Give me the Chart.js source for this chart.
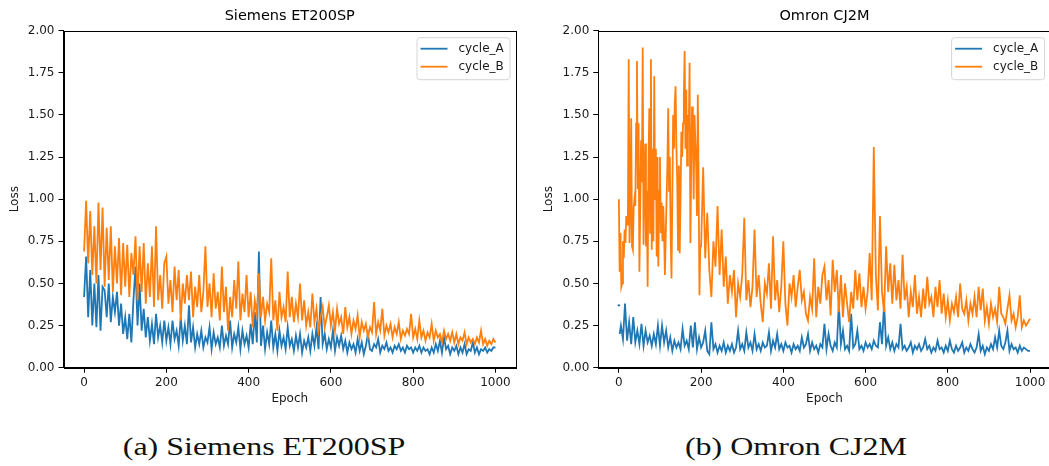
<!DOCTYPE html>
<html><head><meta charset="utf-8">
<script src="https://cdn.jsdelivr.net/npm/chart.js@4/dist/chart.umd.min.js"></script>
<style>
html,body{margin:0;padding:0;background:#fff;}
body{width:1049px;height:466px;position:relative;overflow:hidden;}
#c1{position:absolute;left:0;top:0;}
#c2{position:absolute;left:525px;top:0;}
.cap{position:absolute;top:432px;font-family:"Liberation Serif",serif;font-size:26px;line-height:30px;color:#111;white-space:nowrap;transform:translateX(-50%) scaleX(1.23);transform-origin:center;}
</style></head><body>
<canvas id="c1" width="525" height="420"></canvas>
<canvas id="c2" width="528" height="420"></canvas>
<div class="cap" style="left:264px">(a) Siemens ET200SP</div>
<div class="cap" style="left:796px">(b) Omron CJ2M</div>
<script>
// ---- data ----
const epochs = Array.from({length: 201}, (_, i) => i * 5); // 0..1000 step 5
const earlyEpochs = Array.from({length: 100}, (_, i) => i * 2); // 0..198 step 2
const xTicks = [0, 200, 400, 600, 800, 1000];
const yTicks = [0, 0.25, 0.5, 0.75, 1.0, 1.25, 1.5, 1.75, 2.0];
const seriesNames = ['cycle_A', 'cycle_B'];
const titles = ['Siemens ET200SP', 'Omron CJ2M'];

const siemensA = [
0.42,0.66,0.30,0.58,0.25,0.50,0.24,0.55,0.22,0.48,
0.46,0.30,0.50,0.27,0.42,0.33,0.45,0.25,0.38,0.20,
0.30,0.17,0.32,0.15,0.40,0.60,0.25,0.50,0.22,0.35,
0.18,0.30,0.16,0.26,0.14,0.32,0.18,0.25,0.15,0.28,
0.16,0.24,0.14,0.28,0.17,0.22,0.13,0.30,0.16,0.25,
0.14,0.37,0.15,0.24,0.12,0.20,0.14,0.22,0.12,0.18,
0.15,0.24,0.11,0.21,0.14,0.18,0.12,0.25,0.13,0.19,
0.14,0.28,0.12,0.20,0.15,0.24,0.11,0.22,0.14,0.19,
0.12,0.26,0.14,0.33,0.15,0.69,0.13,0.25,0.11,0.21,
0.14,0.28,0.12,0.20,0.10,0.22,0.13,0.18,0.11,0.24,
0.13,0.17,0.10,0.19,0.12,0.20,0.09,0.16,0.12,0.18,
0.10,0.20,0.13,0.24,0.11,0.42,0.14,0.20,0.11,0.17,
0.12,0.22,0.10,0.18,0.13,0.19,0.11,0.16,0.09,0.15,
0.11,0.14,0.09,0.17,0.10,0.15,0.08,0.13,0.20,0.11,
0.10,0.14,0.12,0.17,0.09,0.13,0.11,0.15,0.10,0.12,
0.09,0.13,0.11,0.14,0.10,0.12,0.09,0.13,0.11,0.12,
0.09,0.12,0.10,0.13,0.09,0.12,0.10,0.11,0.08,0.12,
0.09,0.14,0.10,0.16,0.09,0.18,0.11,0.13,0.08,0.12,
0.10,0.13,0.08,0.12,0.09,0.14,0.08,0.11,0.10,0.15,
0.09,0.12,0.08,0.11,0.10,0.12,0.09,0.11,0.10,0.12,
0.12];

const siemensB = [
0.69,0.99,0.62,0.93,0.55,0.84,0.50,0.98,0.58,0.95,
0.48,0.83,0.52,0.84,0.45,0.72,0.50,0.77,0.43,0.74,
0.48,0.73,0.42,0.68,0.55,0.78,0.40,0.72,0.45,0.74,
0.38,0.62,0.42,0.72,0.36,0.84,0.40,0.55,0.35,0.62,
0.66,0.38,0.52,0.33,0.60,0.40,0.58,0.28,0.50,0.38,
0.55,0.40,0.57,0.30,0.48,0.36,0.55,0.33,0.45,0.72,
0.36,0.50,0.30,0.56,0.35,0.45,0.28,0.60,0.33,0.48,
0.22,0.42,0.30,0.52,0.35,0.63,0.28,0.44,0.33,0.55,
0.30,0.45,0.24,0.40,0.32,0.56,0.30,0.42,0.28,0.38,
0.33,0.65,0.28,0.40,0.22,0.45,0.30,0.36,0.27,0.57,
0.30,0.42,0.27,0.38,0.30,0.50,0.28,0.40,0.25,0.33,
0.24,0.44,0.27,0.35,0.22,0.30,0.36,0.24,0.30,0.37,
0.25,0.33,0.22,0.35,0.26,0.30,0.20,0.36,0.24,0.30,
0.20,0.28,0.23,0.31,0.18,0.27,0.22,0.26,0.18,0.24,
0.21,0.39,0.20,0.27,0.22,0.35,0.19,0.25,0.21,0.26,
0.18,0.24,0.20,0.27,0.17,0.22,0.19,0.23,0.20,0.32,
0.18,0.23,0.17,0.28,0.18,0.22,0.16,0.21,0.18,0.26,
0.16,0.22,0.18,0.20,0.15,0.22,0.17,0.20,0.16,0.21,
0.15,0.20,0.14,0.18,0.16,0.21,0.14,0.18,0.15,0.17,
0.14,0.18,0.15,0.22,0.14,0.17,0.13,0.16,0.14,0.17,
0.15];

// Omron cycle_A: an isolated first value, a gap, then the curve from epoch 2
const omronAHeadEpochs = [0, 1, 2];
const omronAHead = [0.37, null, 0.20];
const omronA = [ // epochs 5..1000 step 5
0.25,0.17,0.38,0.16,0.27,0.14,0.30,0.15,0.22,
0.14,0.26,0.13,0.22,0.15,0.19,0.13,0.20,0.14,0.25,
0.13,0.25,0.15,0.22,0.12,0.18,0.10,0.16,0.12,0.15,
0.11,0.23,0.13,0.16,0.11,0.25,0.12,0.27,0.11,0.18,
0.12,0.15,0.22,0.10,0.08,0.27,0.11,0.14,0.09,0.13,
0.10,0.15,0.09,0.13,0.10,0.14,0.09,0.12,0.22,0.11,
0.14,0.10,0.21,0.12,0.15,0.10,0.20,0.11,0.14,0.10,
0.15,0.12,0.13,0.21,0.10,0.16,0.12,0.20,0.11,0.14,
0.10,0.15,0.12,0.13,0.09,0.14,0.11,0.13,0.10,0.18,
0.12,0.14,0.20,0.10,0.15,0.11,0.13,0.09,0.14,0.12,
0.26,0.11,0.20,0.13,0.10,0.15,0.12,0.38,0.14,0.22,
0.11,0.13,0.10,0.32,0.12,0.14,0.22,0.11,0.13,0.10,
0.15,0.12,0.14,0.11,0.16,0.13,0.12,0.27,0.14,0.38,
0.13,0.18,0.11,0.15,0.10,0.14,0.12,0.26,0.11,0.13,
0.10,0.12,0.15,0.09,0.13,0.11,0.14,0.10,0.12,0.17,
0.11,0.13,0.09,0.12,0.10,0.16,0.11,0.12,0.09,0.13,
0.10,0.16,0.11,0.09,0.13,0.10,0.12,0.15,0.09,0.12,
0.10,0.14,0.11,0.09,0.12,0.20,0.10,0.13,0.08,0.12,
0.10,0.14,0.11,0.18,0.12,0.22,0.13,0.11,0.15,0.22,
0.10,0.14,0.11,0.12,0.09,0.13,0.10,0.12,0.11,0.10,
0.10];

// Omron cycle_B: epochs 0..198 step 2, then 200..1000 step 5
const omronBEarly = [
1.00,0.57,0.80,0.48,0.50,0.75,0.65,0.82,0.74,0.90,
0.85,0.90,1.83,0.74,0.95,1.48,0.72,0.70,0.95,1.00,
0.96,1.45,1.82,1.06,1.45,0.57,0.95,1.35,1.10,1.90,
0.73,1.10,1.33,0.72,1.05,0.48,1.20,1.54,0.80,1.83,
0.70,1.30,0.75,1.73,1.00,1.30,0.66,1.25,0.60,1.05,
1.25,0.80,0.98,0.75,0.96,0.80,0.55,0.78,1.00,1.20,
1.54,1.05,1.25,0.80,0.53,1.00,1.50,1.30,1.57,1.67,
1.30,1.10,0.70,1.20,0.68,1.00,1.40,1.25,1.45,1.60,
1.88,1.30,1.65,1.20,1.50,1.40,1.81,0.74,1.20,1.55,
1.48,1.00,1.50,1.35,1.20,0.90,1.62,1.10,0.43,0.72];
const omronBLate = [ // epochs 200..1000 step 5
0.72,1.19,0.65,0.92,0.58,0.42,0.75,0.60,0.96,0.55,
0.82,0.48,0.66,0.38,0.55,0.45,0.58,0.30,0.50,0.42,
0.55,0.89,0.40,0.52,0.36,0.48,0.82,0.42,0.55,0.38,
0.27,0.50,0.44,0.62,0.35,0.78,0.40,0.52,0.33,0.48,
0.75,0.38,0.25,0.50,0.42,0.55,0.36,0.48,0.58,0.40,
0.45,0.32,0.28,0.42,0.35,0.65,0.30,0.48,0.38,0.55,
0.60,0.40,0.52,0.31,0.64,0.45,0.58,0.33,0.55,0.30,
0.50,0.38,0.27,0.45,0.35,0.58,0.40,0.56,0.36,0.48,
0.35,0.45,0.68,0.40,1.31,0.55,0.34,0.90,0.45,0.33,
0.72,0.45,0.62,0.38,0.61,0.40,0.52,0.35,0.67,0.40,
0.48,0.30,0.45,0.36,0.55,0.32,0.42,0.30,0.47,0.35,
0.54,0.38,0.42,0.30,0.48,0.36,0.52,0.32,0.44,0.30,
0.40,0.28,0.38,0.33,0.42,0.30,0.50,0.35,0.32,0.40,
0.28,0.38,0.32,0.42,0.30,0.48,0.34,0.47,0.28,0.36,
0.26,0.38,0.30,0.35,0.27,0.48,0.32,0.30,0.26,0.35,
0.43,0.28,0.32,0.24,0.30,0.43,0.24,0.28,0.25,0.27,
0.29];

const colors = ['#1f77b4', '#ff7f0e'];

// ---- helpers ----
const pts = (xs, ys) => xs.map((x, i) => ({x, y: ys[i]}));
Chart.defaults.font.family = '"DejaVu Sans", sans-serif';
Chart.defaults.color = '#1a1a1a';

const framePlugin = {
  id: 'frame',
  afterDatasetsDraw(chart) {
    const {ctx, chartArea: a} = chart;
    ctx.save();
    ctx.strokeStyle = '#000';
    ctx.lineWidth = 1;
    const l = Math.round(a.left) + 0.5, t = Math.round(a.top) + 0.5;
    const r = Math.round(a.right) + 0.5, b = Math.round(a.bottom) + 0.5;
    ctx.strokeRect(l, t, r - l, b - t);
    ctx.restore();
  }
};

const legendPlugin = {
  id: 'mplLegend',
  afterDraw(chart) {
    const {ctx, chartArea: a} = chart;
    const w = 93, h = 42;
    const x0 = a.right - 6.5 - w, y0 = a.top + 6.5;
    ctx.save();
    ctx.beginPath();
    ctx.roundRect(x0 + 0.5, y0 + 0.5, w, h, 3);
    ctx.fillStyle = 'rgba(255,255,255,0.8)';
    ctx.fill();
    ctx.strokeStyle = '#d6d6d6';
    ctx.lineWidth = 1;
    ctx.stroke();
    ctx.font = '12px "DejaVu Sans", sans-serif';
    ctx.textBaseline = 'middle';
    chart.data.datasets.forEach((ds, i) => {
      const yy = y0 + 11.5 + i * 18;
      ctx.strokeStyle = ds.borderColor;
      ctx.lineWidth = 1.8;
      ctx.beginPath();
      ctx.moveTo(x0 + 4, yy);
      ctx.lineTo(x0 + 31, yy);
      ctx.stroke();
      ctx.fillStyle = '#1a1a1a';
      ctx.fillText(ds.label, x0 + 42, yy + 0.5);
    });
    ctx.restore();
  }
};

function makeChart(id, title, dataA, dataB, yWidth, yTitlePad, rightPad, pointRadiusA) {
  return new Chart(document.getElementById(id), {
    type: 'line',
    data: {
      datasets: [
        {label: seriesNames[0], data: dataA, borderColor: colors[0], backgroundColor: colors[0],
         borderWidth: 1.8, pointRadius: pointRadiusA, pointHoverRadius: 0, pointBorderWidth: 0,
         tension: 0, spanGaps: false, order: 1},
        {label: seriesNames[1], data: dataB, borderColor: colors[1], backgroundColor: colors[1],
         borderWidth: 1.8, pointRadius: 0, pointHoverRadius: 0, tension: 0, order: 0}
      ]
    },
    options: {
      responsive: false,
      animation: false,
      events: [],
      layout: {padding: {left: 0, right: rightPad, top: 0, bottom: 0}},
      plugins: {
        legend: {display: false},
        tooltip: {enabled: false},
        title: {display: true, text: title, fullSize: false, color: '#000',
                font: {size: 14.5, weight: 'normal'}, padding: {top: 8, bottom: 5.3}}
      },
      scales: {
        x: {
          type: 'linear', min: -50, max: 1050,
          afterBuildTicks: s => { s.ticks = xTicks.map(v => ({value: v})); },
          afterFit: s => { s.height = 52.3; },
          ticks: {callback: v => String(v), font: {size: 12}, color: '#1a1a1a', padding: 2.5, maxRotation: 0, autoSkip: false},
          grid: {display: true, drawOnChartArea: false, drawTicks: true, tickLength: 5, color: '#000', tickWidth: 1},
          border: {display: true, color: '#000', width: 1},
          title: {display: true, text: 'Epoch', font: {size: 12}, color: '#1a1a1a', padding: {top: 0, bottom: 13.5}}
        },
        y: {
          type: 'linear', min: 0, max: 2,
          afterBuildTicks: s => { s.ticks = yTicks.map(v => ({value: v})); },
          afterFit: s => { s.width = yWidth; },
          ticks: {callback: v => v.toFixed(2), font: {size: 12}, color: '#1a1a1a', padding: 4},
          grid: {display: true, drawOnChartArea: false, drawTicks: true, tickLength: 5, color: '#000', tickWidth: 1},
          border: {display: true, color: '#000', width: 1},
          title: {display: true, text: 'Loss', font: {size: 12}, color: '#1a1a1a', padding: {top: yTitlePad, bottom: 0}}
        }
      }
    },
    plugins: [framePlugin, legendPlugin]
  });
}

makeChart('c1', titles[0], pts(epochs, siemensA), pts(epochs, siemensB), 63.5, 7.5, 9, 0);
const omronAEpochs = omronAHeadEpochs.concat(epochs.slice(1));
const omronBEpochs = earlyEpochs.concat(epochs.slice(40));
makeChart('c2', titles[1], pts(omronAEpochs, omronAHead.concat(omronA)),
  pts(omronBEpochs, omronBEarly.concat(omronBLate)), 73.3, 17, 2.4,
  c => (c.dataIndex === 0 ? 1.2 : 0));
</script>
</body></html>
